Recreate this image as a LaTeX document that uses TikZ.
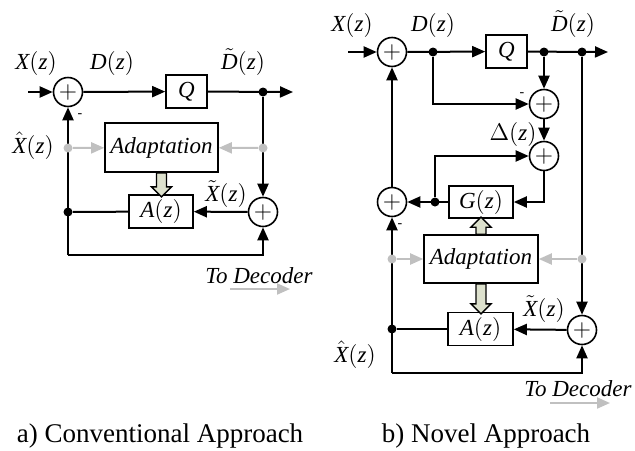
\documentclass[tikz,border=0pt]{standalone}
\usepackage{fontspec}
\setmainfont{Liberation Serif}
\usetikzlibrary{arrows.meta}
\definecolor{lgray}{RGB}{192,192,192}
\definecolor{fatfill}{RGB}{221,225,205}
\newcommand\tx[1]{\hbox{\itshape #1}}
% hollow arrow: start, shaft length, head length (signed, pixels)
\newcommand\fatarrow[3]{\draw[fatarr] (#1) ++(-5,0) -- ++(0,#2) -- ++(-5,0)
  -- ++(10,#3) -- ++(10,{-(#3)}) -- ++(-5,0) -- ++(0,{-(#2)}) -- cycle;}

\begin{document}
\begin{tikzpicture}[x=0.5pt, y=-0.5pt,
    sum/.style={circle, draw, line width=0.8pt, minimum size=14.5pt, inner sep=0pt,
      font=\fontsize{12}{12}\selectfont},
    blk/.style={draw, line width=0.8pt, inner sep=0pt, font=\fontsize{11.5}{13}\selectfont},
    sig/.style={line width=1pt, -{Triangle[length=6.5pt,width=5.5pt]}},
    gsig/.style={line width=1pt, lgray, -{Triangle[length=6.5pt,width=5.5pt]}},
    dot/.style={circle, fill, inner sep=0pt, minimum size=4.5pt},
    gdot/.style={dot, fill=lgray},
    lbl/.style={anchor=base, inner sep=0pt, font=\fontsize{11.5}{13}\selectfont},
    capt/.style={anchor=base, inner sep=0pt, font=\fontsize{13.5}{15}\selectfont},
    fatarr/.style={draw, line width=0.7pt, fill=fatfill}]
\useasboundingbox (0,0) rectangle (635,450);

%% a) conventional approach
\coordinate (ain) at (28,92);
\coordinate (aout) at (293,92);
\node[sum] (a1) at (68,92) {$+$};
\node[blk, minimum width=20.5pt, minimum height=16.5pt] (aq) at (186.5,91.5) {$\tx{Q}$};
\node[dot] (ad) at (263,92) {};
\node[blk, minimum width=56.5pt, minimum height=24.5pt] (aad) at (161.5,147.5) {\textit{Adaptation}};
\node[blk, minimum width=32pt, minimum height=16.5pt] (aa) at (161,211.5) {$\tx{A}(\tx{z})$};
\node[sum] (a2) at (263,212) {$+$};
\node[dot] (adl) at (68,212) {};
\coordinate (abl) at (68,255);

\draw[sig] (ain) -- (a1);
\draw[sig] (a1) -- (aq);
\draw[sig] (aq) -- (aout);
\draw[sig] (ad) -- (a2);
\draw[sig] (a2) -- (aa);
\draw[line width=1pt] (aa) -- (adl);
\draw[sig] (abl) -- (a1);
\draw[sig] (abl) -| (a2);
\fatarrow{aad.south}{14}{10}

\node[gdot] (agl) at (68,148) {};
\node[gdot] (agr) at (263,148) {};
\draw[gsig] (agl) -- (aad);
\draw[gsig] (agr) -- (aad);

\node[lbl] (alx) at (36,69) {$\tx{X}(\tx{z})$};
\node[lbl] (ald) at (112,69) {$\tx{D}(\tx{z})$};
\node[lbl] (aldt) at (243,69) {$\tilde{\tx{D}}(\tx{z})$};
\node[lbl] (alxh) at (33,153) {$\hat{\tx{X}}(\tx{z})$};
\node[lbl] (alxt) at (226,201) {$\tilde{\tx{X}}(\tx{z})$};
\node[font=\scriptsize] (amin) at (80,116) {-};
\node[lbl] (adec) at (259,283) {\textit{To Decoder}};
\coordinate (adl1) at (230,289);
\coordinate (adl2) at (290,289);
\draw[gsig] (adl1) -- (adl2);

%% b) novel approach
\coordinate (bin) at (348,52);
\coordinate (bout) at (608,52);
\node[sum] (b1) at (392,52) {$+$};
\node[dot] (bd1) at (433,52) {};
\node[blk, minimum width=20.5pt, minimum height=16.5pt] (bq) at (506.5,51.5) {$\tx{Q}$};
\node[dot] (bd2) at (544,52) {};
\node[dot] (bd3) at (582,52) {};
\node[sum] (b2) at (544,104) {$+$};
\node[sum] (b3) at (544,156) {$+$};
\node[blk, minimum width=32pt, minimum height=16pt] (bg) at (481,202) {$\tx{G}(\tx{z})$};
\node[dot] (bd4) at (435,202) {};
\node[sum] (b4) at (392,202) {$+$};
\node[blk, minimum width=57pt, minimum height=24pt] (bad) at (481,259) {\textit{Adaptation}};
\node[blk, minimum width=32.5pt, minimum height=16.5pt] (ba) at (480.5,329) {$\tx{A}(\tx{z})$};
\node[sum] (b5) at (582,330) {$+$};
\node[dot] (bd5) at (392,329) {};
\coordinate (bbl) at (392,373);

\draw[sig] (bin) -- (b1);
\draw[sig] (b1) -- (bq);
\draw[sig] (bq) -- (bout);
\draw[sig] (bd2) -- (b2);
\draw[sig] (bd1) |- (b2);
\draw[sig] (b2) -- (b3);
\draw[sig] (bd4) |- (b3);
\draw[sig] (b3) |- (bg);
\draw[sig] (bg) -- (b4);
\draw[sig] (b4) -- (b1);
\draw[sig] (bd3) -- (b5);
\draw[sig] (b5) -- (ba);
\draw[line width=1pt] (ba) -- (bd5);
\draw[sig] (bbl) -- (b4);
\draw[sig] (bbl) -| (b5);
\fatarrow{bad.north}{-7}{-10}
\fatarrow{bad.south}{20}{10}

\node[gdot] (bgl) at (392,259) {};
\node[gdot] (bgr) at (582,259) {};
\draw[gsig] (bgl) -- (bad);
\draw[gsig] (bgr) -- (bad);

\node[lbl] (blx) at (352,31) {$\tx{X}(\tx{z})$};
\node[lbl] (bld) at (433,31) {$\tx{D}(\tx{z})$};
\node[lbl] (bldt) at (573,31) {$\tilde{\tx{D}}(\tx{z})$};
\node[font=\scriptsize] (bmin1) at (522,95) {-};
\node[lbl] (bldel) at (513,140) {$\Delta(\tx{z})$};
\node[font=\scriptsize] (bmin2) at (400,226) {-};
\node[lbl] (blxt) at (544,316) {$\tilde{\tx{X}}(\tx{z})$};
\node[lbl] (blxh) at (355,362) {$\hat{\tx{X}}(\tx{z})$};
\node[lbl] (bdec) at (578,396) {\textit{To Decoder}};
\coordinate (bdl1) at (550,403);
\coordinate (bdl2) at (610,403);
\draw[gsig] (bdl1) -- (bdl2);

%% captions
\node[capt] (capa) at (160,442) {a) Conventional Approach};
\node[capt] (capb) at (486,442) {b) Novel Approach};
\end{tikzpicture}
\end{document}
